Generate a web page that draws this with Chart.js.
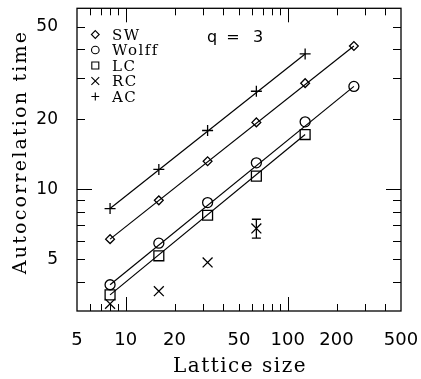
<!DOCTYPE html>
<html>
<head>
<meta charset="utf-8">
<script src="https://cdn.jsdelivr.net/npm/chart.js@4.4.0/dist/chart.umd.min.js"></script>
<style>
html,body{margin:0;padding:0;background:#fff;}
#wrap{width:421px;height:379px;}
</style>
</head>
<body>
<div id="wrap"><canvas id="c" width="421" height="379"></canvas></div>
<script>
// ---- data ----
const sizes      = [8, 16, 32, 64, 128, 256];
const swTau      = [6.11, 8.97, 13.2, 19.4, 28.6, 41.3];
const wolffTau   = [3.89, 5.87, 8.77, 13.0, 19.5, 27.7];
const lcTau      = [3.52, 5.18, 7.74, 11.4, 17.2];
const rcTau      = [3.22, 3.65, 4.85, 6.79];
const rcErrLow   = [null, null, null, 6.17];
const rcErrHigh  = [null, null, null, 7.44];
const acTau      = [8.27, 12.18, 17.9, 26.4, 38.2];

// fitted power-law lines: end points
const acFitX    = [8, 128];   const acFitY    = [8.27, 38.2];
const swFitX    = [8, 256];   const swFitY    = [6.11, 41.3];
const wolffFitX = [8, 256];   const wolffFitY = [3.89, 27.7];
const lcFitX    = [8, 128];   const lcFitY    = [3.52, 17.2];

// axis ticks
const xTickLabels = [5, 10, 20, 50, 100, 200, 500];
const yTickLabels = [5, 10, 20, 50];
const xMinorTicks = [6, 7, 8, 9, 20, 30, 40, 50, 60, 70, 80, 90, 200, 300, 400];
const xMajorTicks = [10, 100];
const yMinorTicks = [4, 5, 6, 7, 8, 9, 20, 30, 40, 50];
const yMajorTicks = [10];

const legendNames  = ['SW', 'Wolff', 'LC', 'RC', 'AC'];
const legendStyles = ['rectRot', 'circle', 'rect', 'crossRot', 'cross'];

const pts = (xs, ys) => ys.map((v, i) => ({x: xs[i], y: v}));

function markerSet(label, data, style, radius) {
  return {
    label, data, showLine: false,
    pointStyle: style, pointRadius: radius, pointHoverRadius: radius,
    pointBorderWidth: 1.3, pointBorderColor: '#000',
    pointBackgroundColor: 'rgba(0,0,0,0)', borderColor: '#000'
  };
}
function fitSet(label, data) {
  return {
    label, data, showLine: true, pointRadius: 0, borderWidth: 1.2,
    borderColor: '#000', backgroundColor: 'rgba(0,0,0,0)', fill: false, tension: 0
  };
}

function drawMark(ctx, style, x, y, r) {
  ctx.beginPath();
  if (style === 'rectRot') {
    ctx.moveTo(x, y - r); ctx.lineTo(x + r, y); ctx.lineTo(x, y + r); ctx.lineTo(x - r, y); ctx.closePath();
  } else if (style === 'circle') {
    ctx.arc(x, y, r, 0, Math.PI * 2);
  } else if (style === 'rect') {
    ctx.rect(x - r, y - r, 2 * r, 2 * r);
  } else if (style === 'crossRot') {
    ctx.moveTo(x - r, y - r); ctx.lineTo(x + r, y + r);
    ctx.moveTo(x + r, y - r); ctx.lineTo(x - r, y + r);
  } else if (style === 'cross') {
    ctx.moveTo(x - r, y); ctx.lineTo(x + r, y);
    ctx.moveTo(x, y - r); ctx.lineTo(x, y + r);
  }
  ctx.stroke();
}

const decorPlugin = {
  id: 'decor',
  beforeDatasetsDraw(chart) {
    const {ctx, chartArea: a, scales: {x, y}} = chart;
    ctx.save();
    ctx.strokeStyle = '#000';
    ctx.lineWidth = 1.3;
    ctx.strokeRect(a.left, a.top, a.right - a.left, a.bottom - a.top);
    ctx.lineWidth = 1;
    const tickX = (vals, len) => vals.forEach(v => {
      const px = Math.round(x.getPixelForValue(v)) + 0.5;
      ctx.beginPath();
      ctx.moveTo(px, a.bottom); ctx.lineTo(px, a.bottom - len);
      ctx.moveTo(px, a.top); ctx.lineTo(px, a.top + len);
      ctx.stroke();
    });
    const tickY = (vals, len) => vals.forEach(v => {
      const py = Math.round(y.getPixelForValue(v)) + 0.5;
      ctx.beginPath();
      ctx.moveTo(a.left, py); ctx.lineTo(a.left + len, py);
      ctx.moveTo(a.right, py); ctx.lineTo(a.right - len, py);
      ctx.stroke();
    });
    tickX(xMinorTicks, 7); tickX(xMajorTicks, 14);
    tickY(yMinorTicks, 8); tickY(yMajorTicks, 15);
    ctx.restore();
  },
  afterDraw(chart) {
    const {ctx, chartArea: a, scales: {x, y}} = chart;
    ctx.save();
    ctx.strokeStyle = '#000';
    ctx.fillStyle = '#000';
    // RC error bars
    ctx.lineWidth = 1.3;
    rcErrLow.forEach((lo, i) => {
      if (lo == null) return;
      const px = x.getPixelForValue(sizes[i]);
      const p1 = y.getPixelForValue(lo), p2 = y.getPixelForValue(rcErrHigh[i]);
      ctx.beginPath();
      ctx.moveTo(px, p1); ctx.lineTo(px, p2);
      ctx.moveTo(px - 4.5, p1); ctx.lineTo(px + 4.5, p1);
      ctx.moveTo(px - 4.5, p2); ctx.lineTo(px + 4.5, p2);
      ctx.stroke();
    });
    // legend
    ctx.lineWidth = 1.1;
    ctx.font = '15px "DejaVu Serif"';
    ctx.letterSpacing = '1.5px';
    ctx.textBaseline = 'alphabetic';
    ctx.textAlign = 'left';
    legendNames.forEach((name, i) => {
      const cy = 34.5 + 15.5 * i;
      drawMark(ctx, legendStyles[i], 95.3, cy, legendStyles[i] === 'circle' ? 3.8 : (legendStyles[i] === 'rect' ? 3.5 : 3.9));
      ctx.fillText(name, 112, cy + 5.2);
    });
    // q = 3
    ctx.font = '16px "DejaVu Sans"';
    ctx.letterSpacing = '0px';
    ctx.textAlign = 'left';
    ctx.fillText('q', 207, 41.5);
    ctx.textAlign = 'center';
    ctx.fillText('=', 233, 41.5);
    ctx.fillText('3', 258, 41.5);
    // axis titles
    ctx.font = '20px "DejaVu Serif"';
    ctx.letterSpacing = '1.5px';
    ctx.textAlign = 'center';
    ctx.fillText('Lattice size', (a.left + a.right) / 2 + 1, 372);
    ctx.save();
    ctx.translate(26, 152);
    ctx.rotate(-Math.PI / 2);
    ctx.font = '19px "DejaVu Serif"';
    ctx.letterSpacing = '2.2px';
    ctx.fillText('Autocorrelation time', 0, 0);
    ctx.restore();
    ctx.restore();
  }
};

new Chart(document.getElementById('c'), {
  type: 'scatter',
  data: {
    datasets: [
      fitSet('AC fit', pts(acFitX, acFitY)),
      fitSet('SW fit', pts(swFitX, swFitY)),
      fitSet('Wolff fit', pts(wolffFitX, wolffFitY)),
      fitSet('LC fit', pts(lcFitX, lcFitY)),
      markerSet('SW', pts(sizes, swTau), 'rectRot', 4.4),
      markerSet('Wolff', pts(sizes, wolffTau), 'circle', 5),
      markerSet('LC', pts(sizes, lcTau), 'rect', 7),
      markerSet('RC', pts(sizes, rcTau), 'crossRot', 7),
      markerSet('AC', pts(sizes, acTau), 'cross', 5.5)
    ]
  },
  options: {
    responsive: false,
    devicePixelRatio: 1,
    animation: false,
    layout: {padding: {left: 0, top: 7, right: 20, bottom: 0}},
    plugins: {legend: {display: false}, tooltip: {enabled: false}, title: {display: false}},
    scales: {
      x: {
        type: 'logarithmic', position: 'bottom', min: 5, max: 500,
        afterBuildTicks: s => { s.ticks = xTickLabels.map(v => ({value: v})); },
        afterFit: s => { s.height = 68; s.paddingLeft = 0; s.paddingRight = 0; },
        ticks: {
          font: {family: 'DejaVu Sans', size: 18}, color: '#000', padding: 19,
          maxRotation: 0, minRotation: 0, autoSkip: false,
          callback: v => String(v)
        },
        grid: {display: false, drawTicks: false},
        border: {display: false},
        title: {display: false}
      },
      y: {
        type: 'logarithmic', position: 'left', min: 3, max: 60,
        afterBuildTicks: s => { s.ticks = yTickLabels.map(v => ({value: v})); },
        afterFit: s => { s.width = 77; s.paddingTop = 0; s.paddingBottom = 0; },
        ticks: {
          font: {family: 'DejaVu Sans', size: 17}, color: '#000', padding: 19,
          autoSkip: false, callback: v => String(v)
        },
        grid: {display: false, drawTicks: false},
        border: {display: false},
        title: {display: false}
      }
    }
  },
  plugins: [decorPlugin]
});
</script>
</body>
</html>
